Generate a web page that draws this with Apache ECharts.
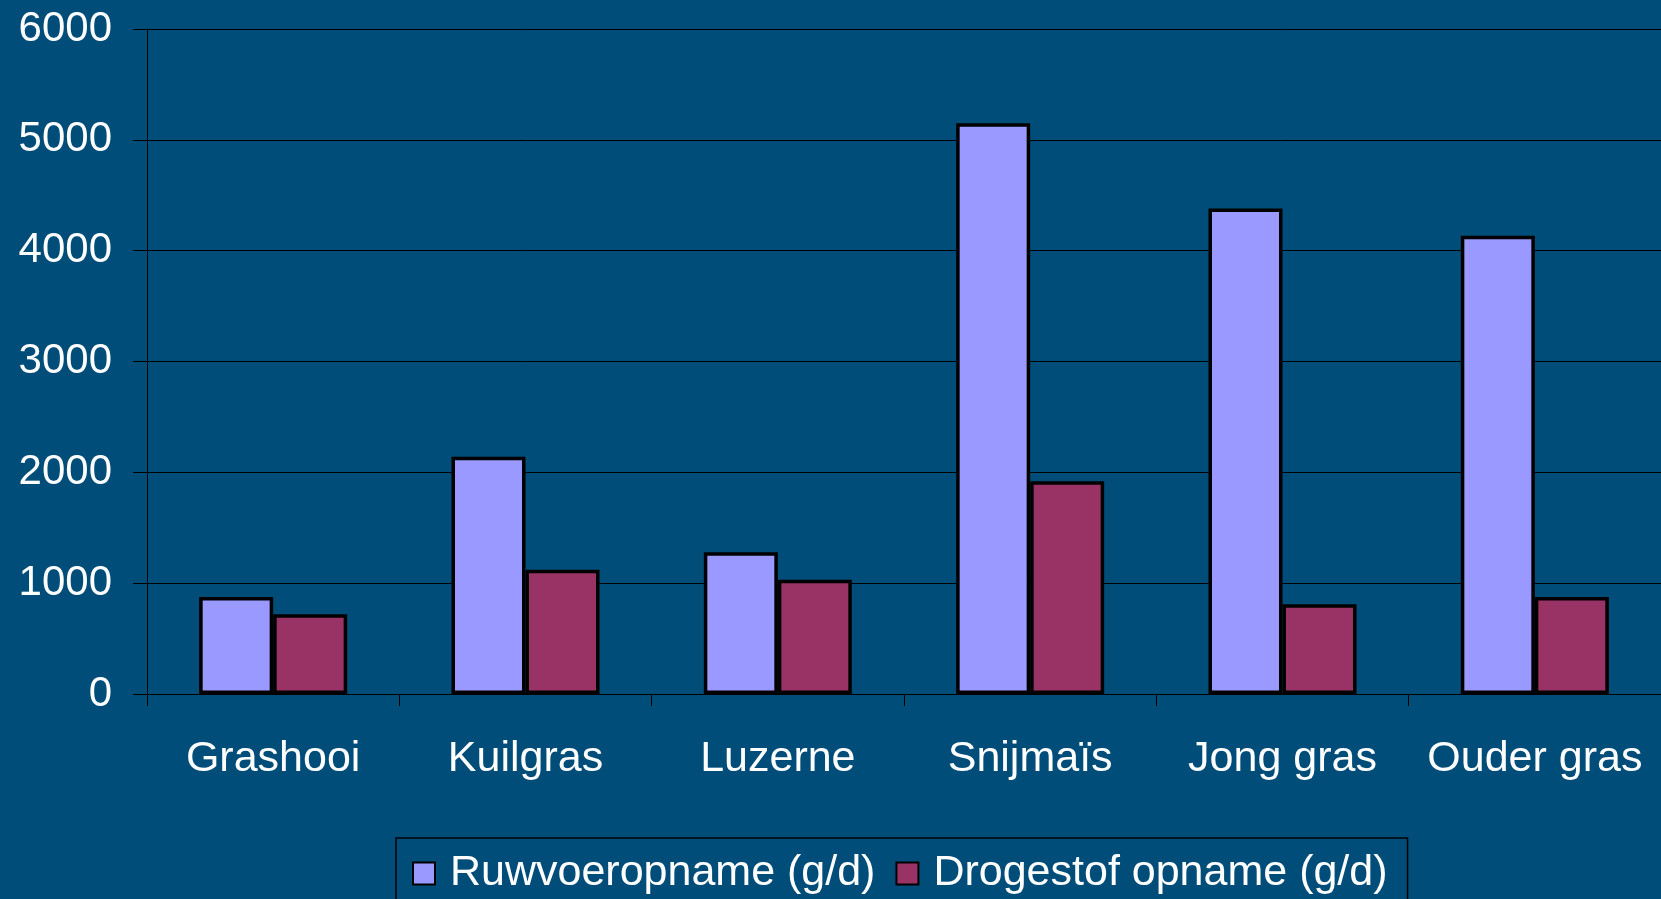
<!DOCTYPE html>
<html>
<head>
<meta charset="utf-8">
<script src="https://cdn.jsdelivr.net/npm/echarts@6/dist/echarts.min.js"></script>
<style>
  html, body { margin: 0; padding: 0; background: #004D79; }
  #container { width: 1661px; height: 899px; }
</style>
</head>
<body>
<div id="container"></div>
<script>
var categories = ['Grashooi', 'Kuilgras', 'Luzerne', 'Snijmaïs', 'Jong gras', 'Ouder gras'];
var ruwvoer = [875, 2140, 1280, 5150, 4380, 4135];
var drogestof = [720, 1120, 1030, 1920, 810, 875];
var seriesNames = ['Ruwvoeropname (g/d)', 'Drogestof opname (g/d)'];

window.onload = function () {
    var dom = document.getElementById('container');
    var myChart = echarts.init(dom, null, { renderer: 'canvas' });
    var font = "'Liberation Sans', Arial, sans-serif";

    var option = {
        backgroundColor: '#004D79',
        animation: false,
        grid: {
            left: 147,
            right: -4,
            top: 29,
            bottom: 205
        },
        legend: {
            data: seriesNames,
            left: 396,
            top: 838,
            padding: [14, 20, 30, 16],
            borderColor: '#000',
            borderWidth: 1.5,
            itemGap: 20,
            itemWidth: 22,
            itemHeight: 22,
            icon: 'rect',
            textStyle: {
                color: '#fff',
                fontSize: 43,
                fontFamily: font,
                padding: [0, 0, 0, 10]
            }
        },
        xAxis: {
            type: 'category',
            data: categories,
            axisLine: { lineStyle: { color: '#000', width: 1 } },
            axisTick: { show: true, length: 12, lineStyle: { color: '#000' } },
            axisLabel: {
                color: '#fff',
                fontSize: 43,
                fontFamily: font,
                margin: 44,
                interval: 0
            }
        },
        yAxis: {
            type: 'value',
            min: 0,
            max: 6000,
            interval: 1000,
            axisLine: { show: true, lineStyle: { color: '#000', width: 1 } },
            axisTick: { show: true, length: 14, lineStyle: { color: '#000' } },
            splitLine: { show: true, lineStyle: { color: '#000', width: 1 } },
            axisLabel: {
                color: '#fff',
                fontSize: 42,
                fontFamily: font,
                margin: 35,
                formatter: function (v) { return String(v); }
            }
        },
        series: [{
            name: seriesNames[0],
            type: 'bar',
            data: ruwvoer,
            barWidth: 74,
            barGap: '0%',
            itemStyle: { color: '#9999FF', borderColor: '#000', borderWidth: 3.5 }
        }, {
            name: seriesNames[1],
            type: 'bar',
            data: drogestof,
            barWidth: 74,
            barGap: '0%',
            itemStyle: { color: '#993366', borderColor: '#000', borderWidth: 3.5 }
        }]
    };
    myChart.setOption(option, true);
};
</script>
</body>
</html>
